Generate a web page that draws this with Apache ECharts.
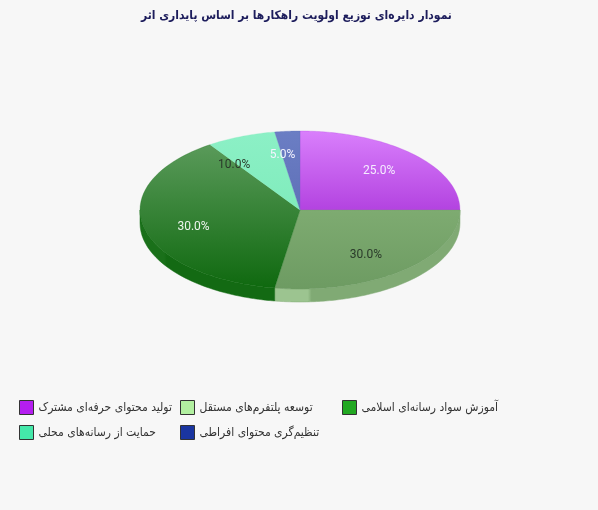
<!DOCTYPE html>
<html><head><meta charset="utf-8">
<script src="https://cdn.jsdelivr.net/npm/echarts@6/dist/echarts.min.js"></script>
<style>html,body{margin:0;padding:0;background:#f7f7f7}#c{width:598px;height:510px}</style>
</head><body><div id="c"></div>
<script>
const titleText = 'نمودار دایره‌ای توزیع اولویت راهکارها بر اساس پایداری اثر';
const categories = ['تولید محتوای حرفه‌ای مشترک', 'توسعه پلتفرم‌های مستقل', 'آموزش سواد رسانه‌ای اسلامی', 'حمایت از رسانه‌های محلی', 'تنظیم‌گری محتوای افراطی'];
const values = [25, 30, 30, 10, 5];
const legendColors = ['#b41ef0', '#b2f0a0', '#22a822', '#44e8aa', '#1a35a0'];
const faceTop = ['#d97ffc', '#7eab71', '#5a9a5a', '#8cf0c6', '#6b7ec4'];
const faceBottom = ['#b343e0', '#6d9b62', '#0f690f', '#80ecbc', '#5f70b8'];
const rimLeft = ['#a23ccc', '#9cc490', '#1a701a', '#70d8a8', '#5566aa'];
const rimRight = ['#a23ccc', '#80aa74', '#136a13', '#70d8a8', '#5566aa'];
const labelColors = ['#f6ecff', '#2a3a2a', '#eef5ee', '#2a3a2a', '#f4f4ff'];

// legend layout: fixed slots, three per row
const LEGEND_COL_X = [19, 180, 342];
const LEGEND_ROW_Y = [400, 425];

const DEPTH = 13;
const total = values.reduce((a, b) => a + b, 0);
function bounds(i) {
  let c = 0;
  for (let k = 0; k < i; k++) c += values[k];
  return [90 - 360 * c / total, 90 - 360 * (c + values[i]) / total];
}
function radii(api) {
  const o = api.coord([0, 0]), px = api.coord([1, 0]), py = api.coord([0, 1]);
  return [px[0] - o[0], o[1] - py[1]];
}
// point on the ellipse rim whose on-screen direction from the centre is thetaDeg
function rimPoint(api, thetaDeg, dy) {
  const r = radii(api);
  const t = thetaDeg * Math.PI / 180;
  const phi = Math.atan2(r[0] * Math.sin(t), r[1] * Math.cos(t));
  const p = api.coord([Math.cos(phi), Math.sin(phi)]);
  return [p[0], p[1] + (dy || 0)];
}
function arc(api, a0, a1, dy) {
  const pts = [];
  const n = Math.max(2, Math.ceil(Math.abs(a0 - a1) / 1.5));
  for (let k = 0; k <= n; k++) pts.push(rimPoint(api, a0 + (a1 - a0) * k / n, dy));
  return pts;
}

function renderRim(params, api) {
  const i = params.dataIndex;
  const b = bounds(i);
  const hi = Math.min(b[0], 0), lo = Math.max(b[1], -180);
  if (hi <= lo) return null;
  const top = arc(api, hi, lo, 0);
  const bottom = arc(api, lo, hi, DEPTH);
  return {
    type: 'polygon',
    shape: { points: top.concat(bottom) },
    style: {
      fill: new echarts.graphic.LinearGradient(0, 0, 1, 0, [
        { offset: 0, color: rimLeft[i] }, { offset: 0.18, color: rimLeft[i] },
        { offset: 0.2, color: rimRight[i] }, { offset: 1, color: rimRight[i] }
      ]),
      stroke: rimRight[i], lineWidth: 0.5
    }
  };
}

function renderFace(params, api) {
  const i = params.dataIndex;
  const b = bounds(i);
  const c = api.coord([0, 0]);
  const pts = [c].concat(arc(api, b[0], b[1], 0));
  const mid = ((b[0] + b[1]) / 2) * Math.PI / 180;
  const lp = api.coord([0.7 * Math.cos(mid), 0.7 * Math.sin(mid)]);
  return {
    type: 'group',
    children: [{
      type: 'polygon',
      shape: { points: pts },
      style: {
        fill: new echarts.graphic.LinearGradient(0, 0, 0, 1, [
          { offset: 0, color: faceTop[i] }, { offset: 1, color: faceBottom[i] }
        ]),
        stroke: faceBottom[i], lineWidth: 0.3
      }
    }, {
      type: 'text',
      z2: 10,
      style: {
        text: (api.value(2) / total * 100).toFixed(1) + '%',
        x: lp[0], y: lp[1],
        fill: labelColors[i],
        font: '12px Roboto',
        align: 'center', verticalAlign: 'middle'
      }
    }]
  };
}

const seriesData = values.map((v, i) => ({ value: [0, 0, v], name: categories[i] }));

const legends = categories.map((name, i) => ({
  data: [name],
  left: LEGEND_COL_X[i % 3], top: LEGEND_ROW_Y[Math.floor(i / 3)],
  padding: 0,
  icon: 'rect', itemWidth: 14, itemHeight: 14, itemGap: 6,
  itemStyle: { borderColor: '#333', borderWidth: 1 },
  textStyle: { fontFamily: 'DejaVu Sans Condensed', fontSize: 12, color: '#333' },
  selectedMode: false
}));

const chart = echarts.init(document.getElementById('c'), null, { renderer: 'canvas' });
chart.setOption({
  backgroundColor: '#f7f7f7',
  animation: false,
  title: {
    text: titleText, left: 136, top: 5,
    textStyle: { fontFamily: 'DejaVu Sans Condensed', fontSize: 12, fontWeight: 'bold', color: '#1d1d5c' }
  },
  legend: legends,
  grid: { left: 140, top: 131, width: 320, height: 158 },
  xAxis: { type: 'value', min: -1, max: 1, show: false },
  yAxis: { type: 'value', min: -1, max: 1, show: false },
  series: [
    { type: 'custom', name: 'rim', coordinateSystem: 'cartesian2d', renderItem: renderRim, data: seriesData, clip: false, silent: true, z: 1 },
    { type: 'custom', name: 'face', coordinateSystem: 'cartesian2d', renderItem: renderFace, data: seriesData, clip: false, silent: true, z: 2 },
    {
      type: 'pie', name: 'legendSource', radius: [0, 0], center: [-100, -100], silent: true,
      label: { show: false }, labelLine: { show: false },
      data: values.map((v, i) => ({ value: v, name: categories[i], itemStyle: { color: legendColors[i] } }))
    }
  ]
});
</script>
</body></html>
